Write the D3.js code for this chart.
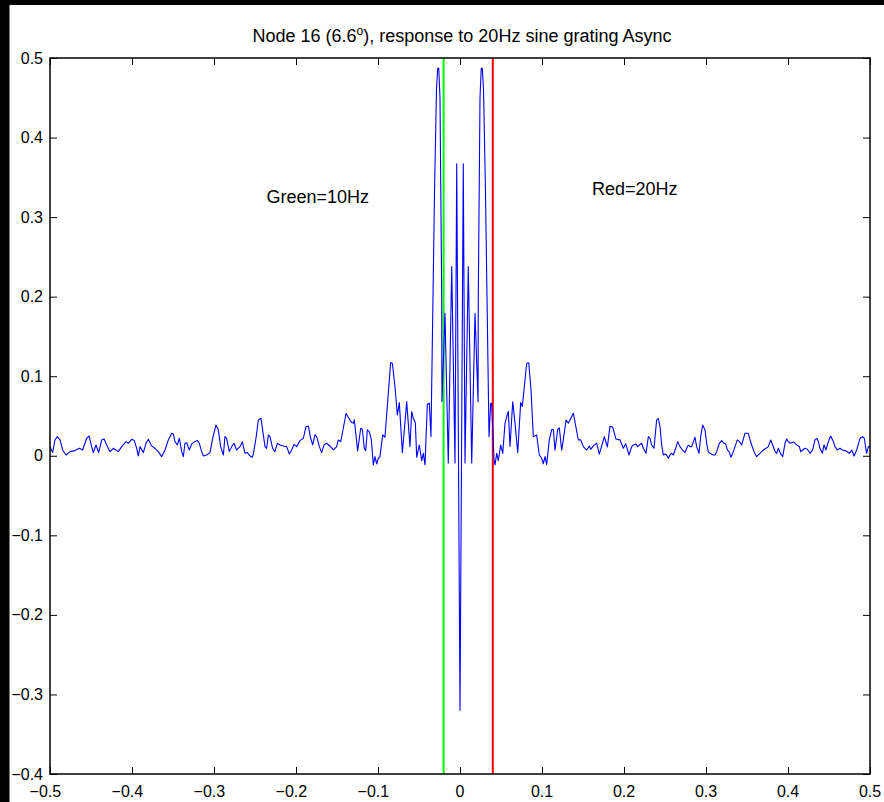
<!DOCTYPE html>
<html>
<head>
<meta charset="utf-8">
<script src="https://cdn.jsdelivr.net/npm/d3@7/dist/d3.min.js"></script>
<style>
  html, body { margin: 0; padding: 0; background: #fff; }
  svg { display: block; }
  text { font-family: "Liberation Sans", Arial, Helvetica, sans-serif; fill: #000; }
</style>
</head>
<body>
<svg id="chart" width="884" height="802"></svg>
<script>
// ---------------- data ----------------
const titleMain = "Node 16 (6.6";
const titleSup = "o";
const titleRest = "), response to 20Hz sine grating Async";

const xDomain = [-0.5, 0.5];
const yDomain = [-0.4, 0.5];
const xTicks = [-0.5, -0.4, -0.3, -0.2, -0.1, 0, 0.1, 0.2, 0.3, 0.4, 0.5];
const xTickLabels = ["\u22120.5", "\u22120.4", "\u22120.3", "\u22120.2", "\u22120.1", "0", "0.1", "0.2", "0.3", "0.4", "0.5"];
const yTicks = [-0.4, -0.3, -0.2, -0.1, 0, 0.1, 0.2, 0.3, 0.4, 0.5];
const yTickLabels = ["\u22120.4", "\u22120.3", "\u22120.2", "\u22120.1", "0", "0.1", "0.2", "0.3", "0.4", "0.5"];

// vertical marker lines (frequency periods)
const markerX = [-0.02, 0.04];
const markerColor = ["#00ff00", "#ff0000"];

// annotations
const noteText = ["Green=10Hz", "Red=20Hz"];
const noteX = [-0.236, 0.161];
const noteY = [0.318, 0.328];

// response curve: [lag, response]
const responseData = [
[-0.5000,0.0115],[-0.4968,0.0040],[-0.4939,0.0199],[-0.4911,0.0241],[-0.4878,0.0199],[-0.4846,0.0073],[-0.4805,0.0010],[-0.4756,0.0052],[-0.4695,0.0065],[-0.4642,0.0094],
[-0.4602,0.0073],[-0.4553,0.0220],[-0.4524,0.0249],[-0.4492,0.0115],[-0.4472,0.0040],[-0.4439,0.0136],[-0.4407,0.0040],[-0.4370,0.0199],[-0.4341,0.0212],[-0.4309,0.0136],
[-0.4268,0.0052],[-0.4228,0.0094],[-0.4167,0.0052],[-0.4126,0.0115],[-0.4073,0.0178],[-0.4045,0.0157],[-0.4004,0.0207],[-0.3972,0.0191],[-0.3943,0.0094],[-0.3923,-0.0002],
[-0.3902,0.0115],[-0.3862,0.0040],[-0.3829,0.0157],[-0.3801,0.0207],[-0.3760,0.0124],[-0.3720,0.0094],[-0.3679,0.0052],[-0.3638,-0.0011],[-0.3598,0.0073],[-0.3557,0.0199],
[-0.3516,0.0283],[-0.3496,0.0274],[-0.3476,0.0178],[-0.3447,0.0136],[-0.3423,0.0220],[-0.3394,0.0052],[-0.3374,-0.0011],[-0.3354,0.0157],[-0.3333,0.0165],[-0.3301,0.0073],
[-0.3272,0.0149],[-0.3232,0.0178],[-0.3203,0.0191],[-0.3179,0.0157],[-0.3150,0.0052],[-0.3130,-0.0002],[-0.3089,0.0010],[-0.3049,0.0040],[-0.3016,0.0220],[-0.2976,0.0387],
[-0.2947,0.0325],[-0.2919,0.0115],[-0.2886,0.0010],[-0.2866,0.0241],[-0.2846,0.0220],[-0.2813,0.0052],[-0.2785,0.0115],[-0.2756,0.0157],[-0.2724,0.0073],[-0.2683,0.0115],
[-0.2655,0.0178],[-0.2622,0.0031],[-0.2594,0.0040],[-0.2561,-0.0002],[-0.2533,-0.0019],[-0.2520,0.0023],[-0.2488,0.0220],[-0.2459,0.0450],[-0.2427,0.0471],[-0.2407,0.0325],
[-0.2378,0.0115],[-0.2358,0.0094],[-0.2337,0.0262],[-0.2317,0.0241],[-0.2285,0.0094],[-0.2256,0.0052],[-0.2228,0.0157],[-0.2195,0.0136],[-0.2155,0.0124],[-0.2114,0.0115],
[-0.2081,0.0023],[-0.2053,0.0073],[-0.2024,0.0144],[-0.1992,0.0115],[-0.1951,0.0191],[-0.1911,0.0220],[-0.1878,0.0367],[-0.1850,0.0375],[-0.1821,0.0220],[-0.1797,0.0136],
[-0.1768,0.0262],[-0.1748,0.0241],[-0.1715,0.0115],[-0.1687,0.0040],[-0.1659,0.0136],[-0.1626,0.0157],[-0.1585,0.0120],[-0.1545,0.0074],[-0.1504,0.0115],[-0.1484,0.0199],
[-0.1455,0.0178],[-0.1423,0.0346],[-0.1390,0.0534],[-0.1362,0.0484],[-0.1321,0.0417],[-0.1301,0.0409],[-0.1289,0.0451],[-0.1248,0.0061],[-0.1211,0.0346],[-0.1191,0.0333],
[-0.1167,0.0094],[-0.1150,0.0065],[-0.1130,0.0325],[-0.1106,0.0304],[-0.1081,0.0199],[-0.1057,-0.0115],[-0.1037,-0.0010],[-0.1016,-0.0102],[-0.0996,-0.0031],[-0.0976,-0.0010],
[-0.0943,0.0262],[-0.0915,0.0233],[-0.0846,0.1171],[-0.0825,0.1163],[-0.0793,0.0870],[-0.0764,0.0513],[-0.0740,0.0668],[-0.0703,0.0040],[-0.0650,0.0681],[-0.0610,0.0115],
[-0.0589,0.0555],[-0.0569,0.0471],[-0.0545,0.0417],[-0.0528,-0.0019],[-0.0496,0.0136],[-0.0467,-0.0061],[-0.0447,0.0032],[-0.0427,-0.0115],[-0.0398,0.0652],[-0.0374,0.0660],
[-0.0354,0.0241],[-0.0311,0.3300],[-0.0287,0.4600],[-0.0272,0.4870],[-0.0259,0.4870],[-0.0244,0.4500],[-0.0223,0.2000],[-0.0220,0.0680],[-0.0183,0.1790],[-0.0143,-0.0090],
[-0.0101,0.2380],[-0.0061,-0.0090],[-0.0040,0.3670],[0.0000,-0.3200],[0.0040,0.3670],[0.0061,-0.0090],[0.0101,0.2380],[0.0143,-0.0090],[0.0183,0.1790],[0.0220,0.0680],
[0.0223,0.2000],[0.0244,0.4500],[0.0259,0.4870],[0.0272,0.4870],[0.0287,0.4600],[0.0311,0.3300],[0.0354,0.0240],[0.0374,0.0660],[0.0386,0.0660],[0.0415,-0.0050],
[0.0427,-0.0115],[0.0448,0.0030],[0.0467,-0.0060],[0.0496,0.0136],[0.0521,0.0030],[0.0549,0.0410],[0.0589,0.0560],[0.0610,0.0116],[0.0643,0.0680],[0.0671,0.0410],
[0.0704,0.0040],[0.0740,0.0670],[0.0760,0.0620],[0.0813,0.1160],[0.0838,0.1170],[0.0866,0.0830],[0.0894,0.0240],[0.0935,0.0260],[0.0967,0.0010],[0.0996,-0.0030],
[0.1016,-0.0100],[0.1037,-0.0010],[0.1057,-0.0110],[0.1089,0.0200],[0.1118,0.0330],[0.1138,0.0330],[0.1159,0.0070],[0.1191,0.0330],[0.1211,0.0350],[0.1240,0.0070],
[0.1260,0.0200],[0.1293,0.0450],[0.1321,0.0410],[0.1382,0.0535],[0.1443,0.0200],[0.1472,0.0200],[0.1504,0.0115],[0.1545,0.0070],[0.1577,0.0124],[0.1594,0.0080],
[0.1626,0.0124],[0.1667,0.0160],[0.1699,0.0020],[0.1728,0.0124],[0.1760,0.0240],[0.1797,0.0110],[0.1829,0.0370],[0.1862,0.0360],[0.1902,0.0210],[0.1951,0.0200],
[0.1992,0.0095],[0.2021,0.0150],[0.2061,0.0010],[0.2094,0.0115],[0.2114,0.0136],[0.2146,0.0149],[0.2167,0.0115],[0.2187,0.0136],[0.2215,0.0157],[0.2236,0.0094],
[0.2268,0.0031],[0.2297,0.0241],[0.2317,0.0220],[0.2337,0.0136],[0.2366,0.0094],[0.2398,0.0450],[0.2419,0.0471],[0.2439,0.0367],[0.2459,0.0136],[0.2480,0.0010],
[0.2500,0.0023],[0.2520,0.0010],[0.2541,-0.0032],[0.2561,0.0010],[0.2581,0.0031],[0.2602,0.0010],[0.2630,0.0094],[0.2655,0.0178],[0.2683,0.0115],[0.2712,0.0073],
[0.2744,0.0040],[0.2764,0.0094],[0.2785,0.0136],[0.2805,0.0115],[0.2826,0.0115],[0.2846,0.0178],[0.2866,0.0232],[0.2886,0.0115],[0.2915,0.0031],[0.2935,0.0241],
[0.2959,0.0387],[0.2988,0.0325],[0.3008,0.0157],[0.3028,0.0052],[0.3049,0.0031],[0.3089,0.0010],[0.3110,0.0010],[0.3130,0.0052],[0.3163,0.0157],[0.3191,0.0191],
[0.3211,0.0165],[0.3240,0.0149],[0.3260,0.0073],[0.3281,0.0052],[0.3305,-0.0019],[0.3325,0.0031],[0.3354,0.0115],[0.3382,0.0199],[0.3407,0.0178],[0.3435,0.0136],
[0.3476,0.0283],[0.3496,0.0283],[0.3516,0.0283],[0.3537,0.0199],[0.3557,0.0136],[0.3586,0.0052],[0.3618,-0.0011],[0.3651,0.0023],[0.3679,0.0052],[0.3699,0.0073],
[0.3732,0.0094],[0.3760,0.0115],[0.3789,0.0199],[0.3813,0.0136],[0.3842,0.0052],[0.3862,0.0031],[0.3882,0.0094],[0.3911,0.0023],[0.3935,-0.0011],[0.3964,0.0157],
[0.3984,0.0212],[0.4004,0.0178],[0.4024,0.0157],[0.4065,0.0174],[0.4085,0.0157],[0.4106,0.0136],[0.4138,0.0115],[0.4155,0.0052],[0.4179,0.0073],[0.4207,0.0094],
[0.4236,0.0082],[0.4268,0.0031],[0.4301,0.0073],[0.4329,0.0199],[0.4350,0.0220],[0.4370,0.0178],[0.4390,0.0094],[0.4419,0.0031],[0.4439,0.0136],[0.4463,0.0073],
[0.4492,0.0178],[0.4520,0.0249],[0.4545,0.0199],[0.4573,0.0115],[0.4602,0.0073],[0.4634,0.0094],[0.4663,0.0073],[0.4695,0.0065],[0.4724,0.0052],[0.4748,0.0031],
[0.4777,0.0073],[0.4805,-0.0002],[0.4838,0.0073],[0.4878,0.0220],[0.4911,0.0241],[0.4931,0.0220],[0.4951,0.0073],[0.4959,0.0031],[0.4980,0.0115],[0.5000,0.0115]
];

// ---------------- drawing ----------------
const W = 884, H = 802;
const plot = { left: 50, right: 870, top: 58, bottom: 774 };
const svg = d3.select("#chart");

svg.append("rect").attr("x", 0).attr("y", 0).attr("width", W).attr("height", H).attr("fill", "#fff");
// dark edges of the captured window
svg.append("rect").attr("x", 0).attr("y", 0).attr("width", W).attr("height", 5).attr("fill", "#000");
svg.append("rect").attr("x", 0).attr("y", 0).attr("width", 9.5).attr("height", H).attr("fill", "#000");

const x = d3.scaleLinear().domain(xDomain).range([plot.left, plot.right]);
const y = d3.scaleLinear().domain(yDomain).range([plot.bottom, plot.top]);

const clip = svg.append("clipPath").attr("id", "plotclip")
  .append("rect").attr("x", plot.left).attr("y", plot.top)
  .attr("width", plot.right - plot.left).attr("height", plot.bottom - plot.top);

// ticks (inward) via d3 axes
const tickLen = 7;
function styleAxis(g) {
  g.select(".domain").remove();
  g.selectAll(".tick line").attr("stroke", "#000").attr("stroke-width", 1);
  g.selectAll(".tick text").remove();
}
svg.append("g").attr("transform", `translate(0,${plot.bottom})`)
  .call(d3.axisBottom(x).tickValues(xTicks).tickSize(-tickLen).tickFormat("")).call(styleAxis);
svg.append("g").attr("transform", `translate(0,${plot.top})`)
  .call(d3.axisTop(x).tickValues(xTicks).tickSize(-tickLen).tickFormat("")).call(styleAxis);
svg.append("g").attr("transform", `translate(${plot.left},0)`)
  .call(d3.axisLeft(y).tickValues(yTicks).tickSize(-tickLen).tickFormat("")).call(styleAxis);
svg.append("g").attr("transform", `translate(${plot.right},0)`)
  .call(d3.axisRight(y).tickValues(yTicks).tickSize(-tickLen).tickFormat("")).call(styleAxis);

// marker lines
svg.append("g").selectAll("line").data(markerX).join("line")
  .attr("x1", d => x(d)).attr("x2", d => x(d))
  .attr("y1", plot.top).attr("y2", plot.bottom)
  .attr("stroke", (d, i) => markerColor[i]).attr("stroke-width", 2);

// response line
const line = d3.line().x(d => x(d[0])).y(d => y(d[1]));
svg.append("path").datum(responseData)
  .attr("clip-path", "url(#plotclip)")
  .attr("d", line).attr("fill", "none")
  .attr("stroke", "#0000ff").attr("stroke-width", 1.1)
  .attr("stroke-linejoin", "round");

// frame
svg.append("rect").attr("x", plot.left).attr("y", plot.top)
  .attr("width", plot.right - plot.left).attr("height", plot.bottom - plot.top)
  .attr("fill", "none").attr("stroke", "#000").attr("stroke-width", 1.5);

// x tick labels: digits centred on the tick, minus sign hangs to the left
const fs = 16;
const xl = svg.append("g").attr("font-size", fs);
xTicks.forEach((t, i) => {
  const lab = xTickLabels[i];
  const neg = lab.startsWith("\u2212");
  const digits = neg ? lab.slice(1) : lab;
  const tx = xl.append("text").attr("x", x(t)).attr("y", 797)
    .attr("text-anchor", "middle").text(digits);
  if (neg) {
    const w = tx.node().getComputedTextLength();
    xl.append("text").attr("x", x(t) - w / 2).attr("y", 797)
      .attr("text-anchor", "end").text("\u2212");
  }
});

// y tick labels
svg.append("g").attr("font-size", fs).selectAll("text").data(yTicks).join("text")
  .attr("x", 43).attr("y", d => y(d) + 5.5)
  .attr("text-anchor", "end")
  .text((d, i) => yTickLabels[i]);

// title
const title = svg.append("text").attr("x", 462).attr("y", 42)
  .attr("text-anchor", "middle").attr("font-size", 18);
title.append("tspan").text(titleMain);
title.append("tspan").attr("font-size", 12).attr("dy", -7).text(titleSup);
title.append("tspan").attr("dy", 7).text(titleRest);

// annotations
svg.append("g").attr("font-size", 18).selectAll("text").data(noteText).join("text")
  .attr("x", (d, i) => x(noteX[i])).attr("y", (d, i) => y(noteY[i]))
  .text(d => d);
</script>
</body>
</html>
